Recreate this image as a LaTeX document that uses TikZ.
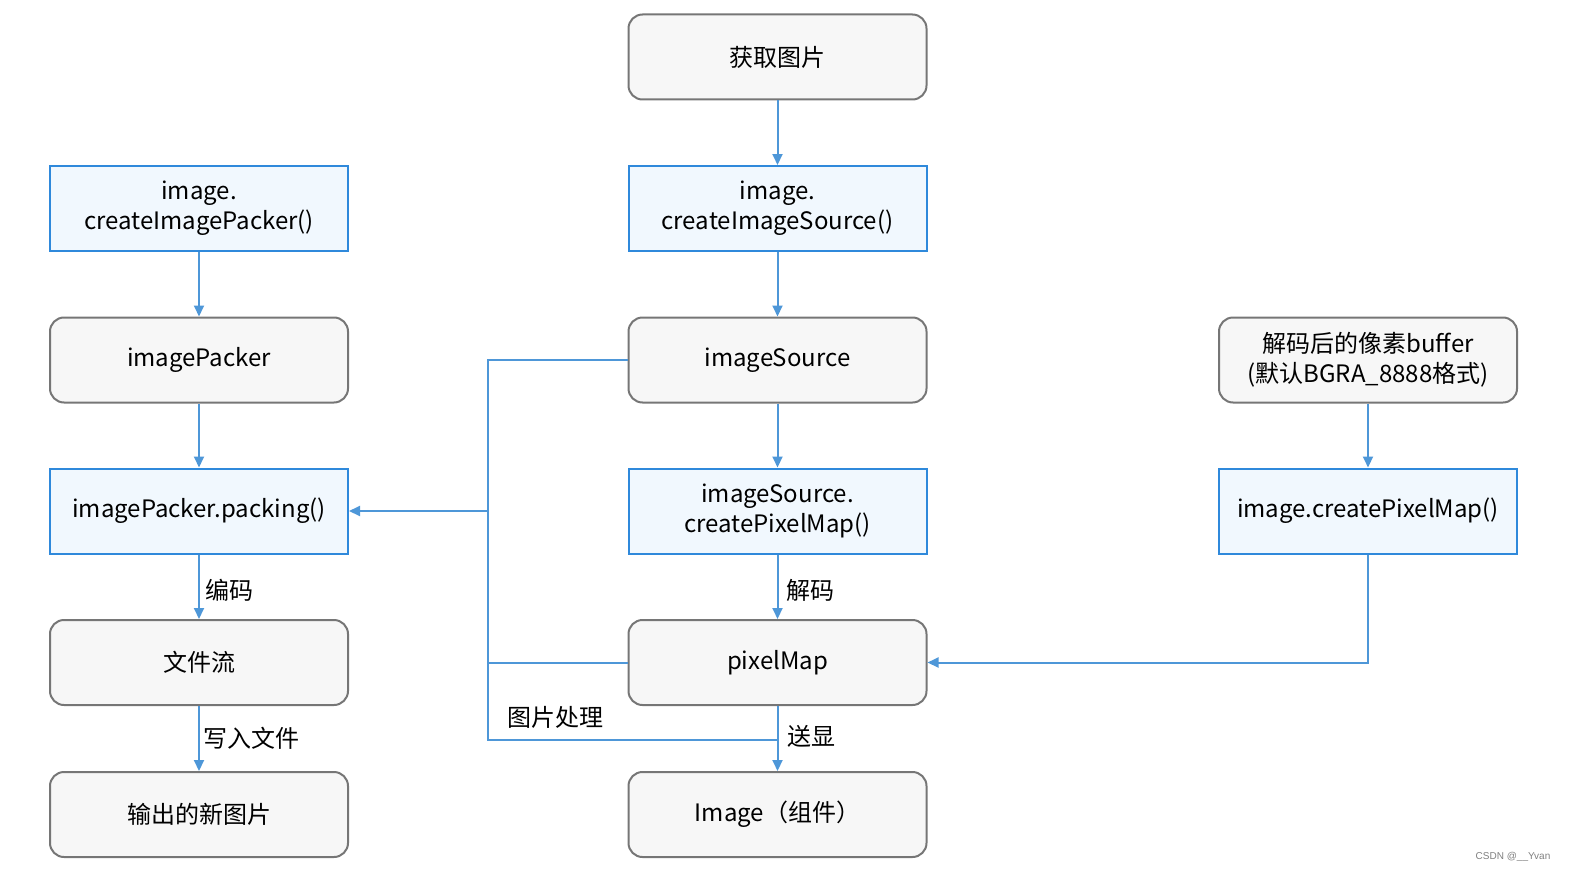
\documentclass[tikz,border=0pt]{standalone}
\usepackage{fontspec}
\setmainfont{Noto Sans CJK SC}
\newfontfamily\markfont{Liberation Sans}
\usetikzlibrary{arrows.meta}
\usetikzlibrary{calc}

\definecolor{grayfill}{HTML}{F7F7F7}
\definecolor{grayline}{HTML}{767676}
\definecolor{bluefill}{HTML}{F1F8FE}
\definecolor{blueline}{HTML}{2F89DB}
\definecolor{flowline}{HTML}{4E97D8}

\begin{document}
\begin{tikzpicture}[x=0.5pt,y=-0.5pt,
  stage/.style={rectangle,rounded corners=7pt,draw=grayline,fill=grayfill,line width=1pt,
    minimum width=149pt,minimum height=42.5pt,align=center,font=\fontsize{12}{15}\selectfont,inner sep=2pt},
  call/.style={stage,rounded corners=0pt,draw=blueline,fill=bluefill},
  flow/.style={draw=flowline,line width=1pt,-{Triangle[length=5.5pt,width=5pt]}},
  bus/.style={draw=flowline,line width=1pt},
  note/.style={anchor=west,inner sep=0pt,font=\fontsize{12}{15}\selectfont}]

  \useasboundingbox (0,0) rectangle (1589,883);

  % middle column
  \node[stage] (fetch)   at (777.5,57)    {获取图片};
  \node[call]  (mkSrc)   at (777.5,208.5) {image.\\createImageSource()};
  \node[stage] (imgSrc)  at (777.5,360)   {imageSource};
  \node[call]  (mkPix)   at (777.5,511)   {imageSource.\\createPixelMap()};
  \node[stage] (pixMap)  at (777.5,662.5) {pixelMap};
  \node[stage] (widget)  at (777.5,814.5) {Image（组件）};

  % left column
  \node[call]  (mkPack)  at (199,208.5) {image.\\createImagePacker()};
  \node[stage] (packer)  at (199,360)   {imagePacker};
  \node[call]  (packing) at (199,511)   {imagePacker.packing()};
  \node[stage] (stream)  at (199,662.5) {文件流};
  \node[stage] (newImg)  at (199,814.5) {输出的新图片};

  % right column
  \node[stage] (buffer)  at (1368,360) {解码后的像素buffer\\(默认BGRA\_8888格式)};
  \node[call]  (bufPix)  at (1368,511) {image.createPixelMap()};

  \draw[flow] (fetch) -- (mkSrc);
  \draw[flow] (mkSrc) -- (imgSrc);
  \draw[flow] (imgSrc) -- (mkPix);
  \draw[flow] (mkPix) -- (pixMap);
  \draw[flow] (pixMap) -- (widget);

  \draw[flow] (mkPack) -- (packer);
  \draw[flow] (packer) -- (packing);
  \draw[flow] (packing) -- (stream);
  \draw[flow] (stream) -- (newImg);

  \draw[flow] (buffer) -- (bufPix);
  \draw[flow] (bufPix.south) |- (pixMap.east);

  % processing branch
  \coordinate (busTop) at (488,360);
  \coordinate (busBot) at (488,740);
  \draw[bus] (imgSrc.west) -- (busTop) -- (busBot) -- (pixMap.south |- busBot);
  \draw[bus] (pixMap.west) -- (pixMap.west -| busTop);
  \draw[flow] (busTop |- packing) -- (packing.east);

  \node[note] (encode) at (205,590) {编码};
  \node[note] (decode) at (786,590) {解码};
  \node[note] (write)  at (203,738) {写入文件};
  \node[note] (show)   at (787,736) {送显};
  \node[note] (proc)   at (507,717) {图片处理};

  \node[inner sep=0pt,text=gray,font=\markfont\fontsize{5}{6}\selectfont] (mark) at (1513,857) {CSDN @\_\_Yvan};
\end{tikzpicture}
\end{document}
